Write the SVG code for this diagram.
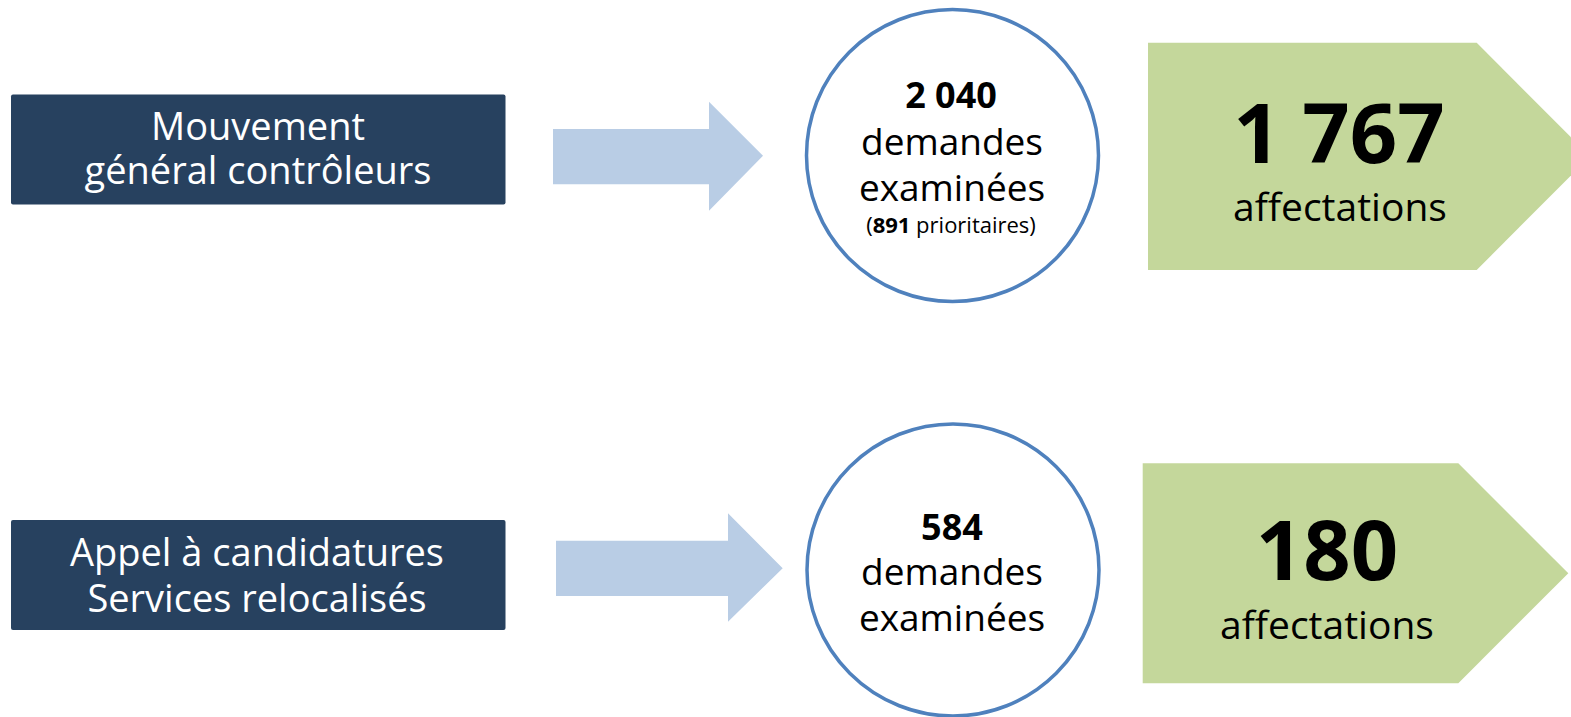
<svg xmlns="http://www.w3.org/2000/svg" width="1571" height="717" viewBox="0 0 1571 717">
<style>
text{font-family:"Open Sans","Liberation Sans",sans-serif;text-anchor:middle}
.box{fill:#27415F}
.bt{fill:#FFFFFF;font-size:38px}
.arrow{fill:#B9CDE5}
.circ{fill:#FFFFFF;stroke:#4F81BD;stroke-width:3.5}
.ct{fill:#000000;font-size:37px}
.cn{fill:#000000;font-size:36px;font-weight:bold}
.cs{fill:#000000;font-size:22px}
.tag{fill:#C4D79B}
.big{fill:#000000;font-size:83px;font-weight:bold}
.aff{fill:#000000;font-size:39px}
</style>
<rect width="1571" height="717" fill="#FFFFFF"/>
<g id="box1">
<rect class="box" x="11" y="94.5" width="494.5" height="110" rx="2"/>
<text class="bt" x="258" y="140">Mouvement</text>
<text class="bt" x="258" y="184">général contrôleurs</text>
</g>
<g id="box2">
<rect class="box" x="11" y="520" width="494.5" height="110" rx="2"/>
<text class="bt" x="257" y="566">Appel à candidatures</text>
<text class="bt" x="257" y="612">Services relocalisés</text>
</g>
<g id="connectors">
<polygon class="arrow" points="553,129 709,129 709,101.7 763,155.7 709,210.7 709,184.3 553,184.3"/>
<polygon class="arrow" points="556,540.7 728,540.7 728,513.3 782.7,568.3 728,621.7 728,596 556,596"/>
</g>
<g id="circle1">
<circle class="circ" cx="952.5" cy="155.5" r="146"/>
<text class="cn" x="951" y="108">2 040</text>
<text class="ct" x="952" y="155">demandes</text>
<text class="ct" x="952" y="201">examinées</text>
<text class="cs" x="951" y="233">(<tspan font-weight="bold">891</tspan> prioritaires)</text>
</g>
<g id="circle2">
<circle class="circ" cx="953" cy="570" r="146"/>
<text class="cn" x="952" y="540">584</text>
<text class="ct" x="952" y="585">demandes</text>
<text class="ct" x="952" y="631">examinées</text>
</g>
<g id="result1">
<polygon class="tag" points="1148,42.7 1476.7,42.7 1590,156.4 1476.7,270 1148,270"/>
<text class="big" x="1339" y="163">1 767</text>
<text class="aff" x="1340" y="221">affectations</text>
</g>
<g id="result2">
<polygon class="tag" points="1142.7,463.3 1458.3,463.3 1568.3,573.3 1458.3,683.3 1142.7,683.3"/>
<text class="big" x="1327" y="580">180</text>
<text class="aff" x="1327" y="639">affectations</text>
</g>
</svg>
